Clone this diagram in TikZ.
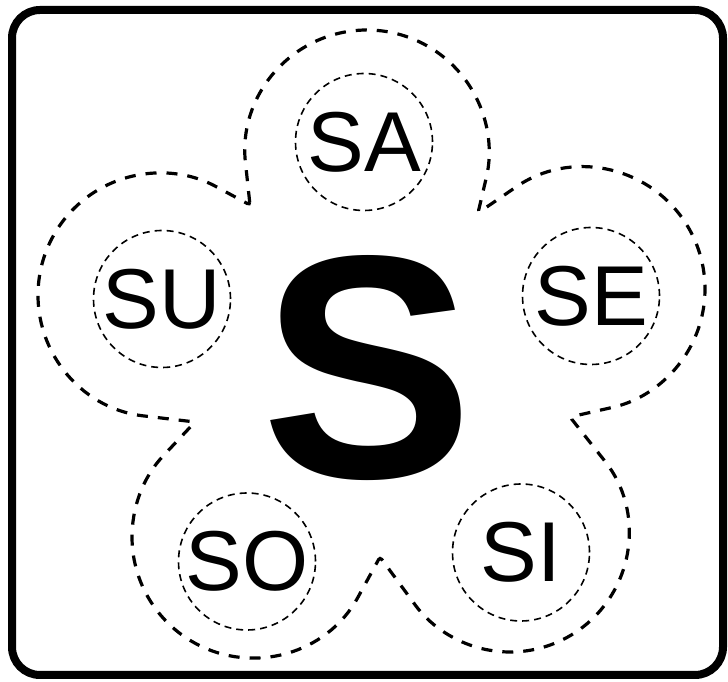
\documentclass[tikz,border=0pt]{standalone}
\usepackage{fontspec}
\setmainfont{Liberation Sans}
\begin{document}
\begin{tikzpicture}[x=1pt,y=1pt,
  frame/.style={line width=8pt, rounded corners=28pt},
  flower/.style={line width=3.2pt, dash pattern=on 11pt off 10pt, rounded corners=3pt},
  petal/.style={circle, draw, line width=1.6pt, dash pattern=on 7pt off 5pt,
    minimum size=137pt, inner sep=0pt, font=\fontsize{85}{85}\selectfont},
  bigs/.style={inner sep=0pt, font=\fontsize{318}{318}\selectfont\bfseries}]
\useasboundingbox (0,0) rectangle (728,682);
\draw[frame] (12,7) rectangle (723,672);

\coordinate (j1) at (250,477);
\coordinate (j2) at (478,469);
\coordinate (j3) at (570,265);
\coordinate (j4) at (380,125);
\coordinate (j5) at (195,260);
\coordinate (ca) at (367,530);
\coordinate (ce) at (583,393);
\coordinate (ci) at (510,149);
\coordinate (co) at (253,145);
\coordinate (cu) at (160,387);

\draw[flower] (j1) -- ([shift={(ca)}]186.2:122) arc[start angle=186.2, end angle=-13.2, radius=122]
  -- (j2) -- ([shift={(ce)}]124.4:122) arc[start angle=124.4, end angle=-77.3, radius=122]
  -- (j3) -- ([shift={(ci)}]38.35:119) arc[start angle=38.35, end angle=-143.7, radius=119]
  -- (j4) -- ([shift={(co)}]-28.75:121) arc[start angle=-28.75, end angle=-223.2, radius=121]
  -- (j5) -- ([shift={(cu)}]263.3:122) arc[start angle=263.3, end angle=61.6, radius=122]
  -- cycle;

\node[petal] (sa) at (364,540) {SA};
\node[petal] (su) at (162,383) {SU};
\node[petal] (se) at (591,386) {SE};
\node[petal] (so) at (247,120.5) {SO};
\node[petal] (si) at (521,129.5) {SI};
\node[bigs] (s) at (368,313.5) {S};
\end{tikzpicture}
\end{document}
